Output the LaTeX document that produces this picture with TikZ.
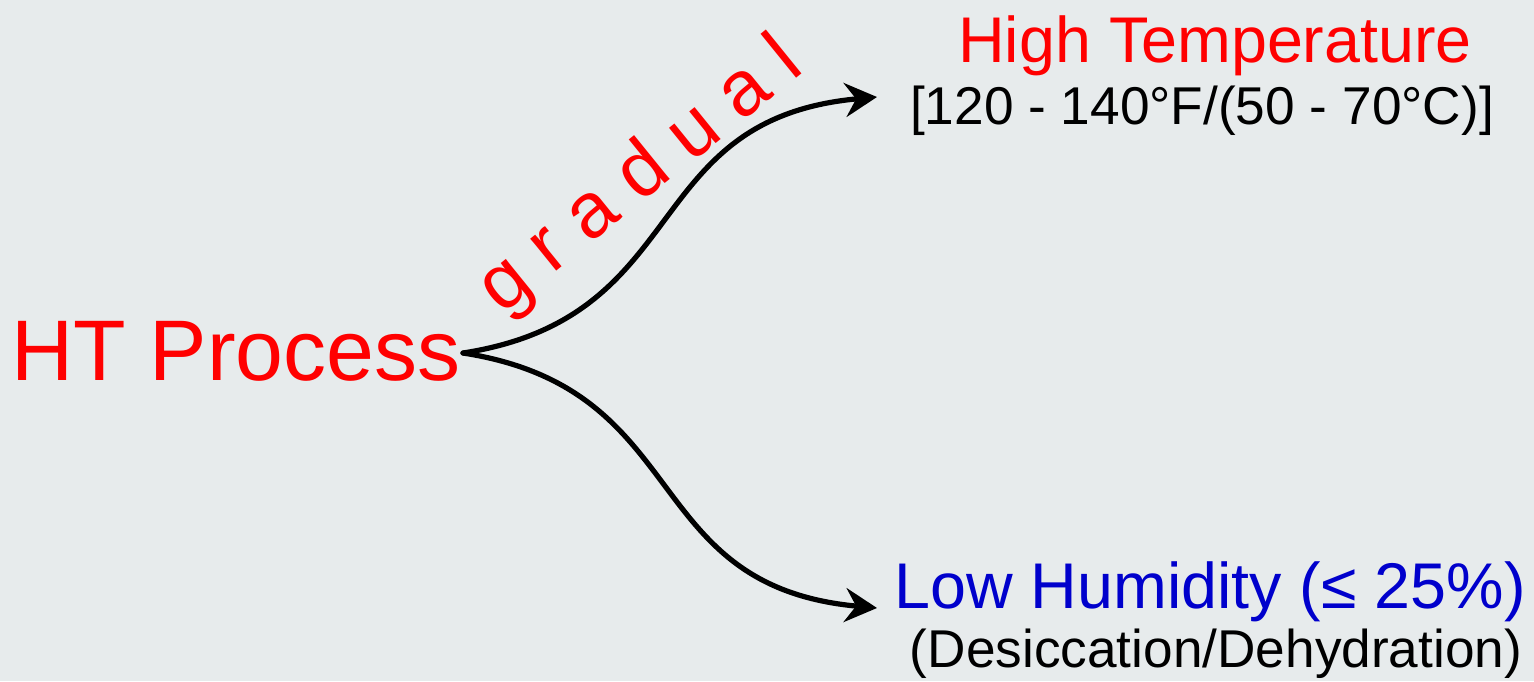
\documentclass[tikz,border=0pt]{standalone}
\usepackage{fontspec}
\setmainfont{Liberation Sans}
\usepackage{tikz}
\usetikzlibrary{arrows.meta}
\definecolor{panelgray}{RGB}{231,235,236}
\definecolor{htred}{RGB}{255,0,0}
\definecolor{humblue}{RGB}{0,0,204}

\begin{document}
\begin{tikzpicture}[x=0.5pt, y=-0.5pt, line cap=round, line join=round,
  branch/.style={draw=black, line width=2.6pt,
    -{Stealth[length=16pt,width=17pt,inset=5.5pt]}},
  bigtext/.style={inner sep=0pt, font=\fontsize{43}{50}\selectfont},
  headtext/.style={inner sep=0pt, font=\fontsize{32.3}{38}\selectfont},
  subtext/.style={inner sep=0pt, font=\fontsize{26.6}{32}\selectfont}]
  \fill[panelgray] (0,0) rectangle (1534,681);
  \useasboundingbox (0,0) rectangle (1534,681);

  % Process name on the left, the two outcomes on the right.
  \node[bigtext, text=htred, anchor=base west] (htproc) at (11,380) {HT Process};
  \node[headtext, text=htred, anchor=base] (hightemp) at (1215,62)
    {High Temperature};
  \node[subtext, anchor=base] (temprange) at (1202,124)
    {[120 - 140°F/(50 - 70°C)]};
  \node[headtext, text=humblue, anchor=base] (lowhum) at (1210,608)
    {Low Humidity (≤ 25\%)};
  \node[subtext, anchor=base] (desicc) at (1216,667)
    {(Desiccation/Dehydration)};

  \coordinate (fork) at (463,353);
  \coordinate (tiphigh) at (877,97);
  \coordinate (tiplow) at (877,608);

  % Two mirrored S-curves leaving the fork.
  \draw[branch] (fork) .. controls +(232,-36) and +(-240,22) .. (tiphigh);
  \draw[branch] (fork) .. controls +(232,36) and +(-240,-22) .. (tiplow);

  \node[text=htred, inner sep=0pt, rotate=39, anchor=base,
    font=\fontsize{39}{45}\selectfont] (gradual) at (654,193) {g r a d u a l};
\end{tikzpicture}
\end{document}
